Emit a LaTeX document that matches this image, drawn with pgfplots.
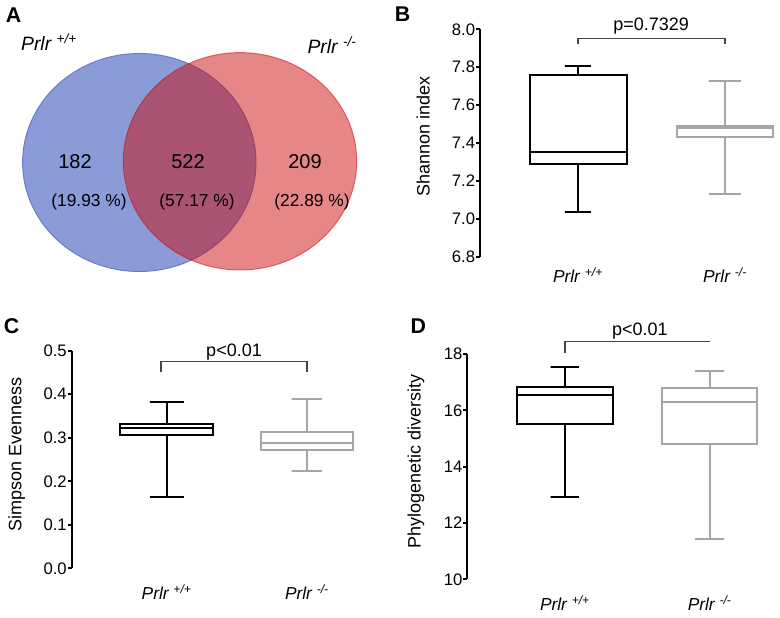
\documentclass[border=0pt]{standalone}
\usepackage{fontspec}
\setmainfont{Liberation Sans}
\usepackage{pgfplots}
\pgfplotsset{compat=1.18}
\definecolor{vblue}{RGB}{138,155,215}
\definecolor{vbluedge}{RGB}{105,122,205}
\definecolor{vred}{RGB}{204,9,9}
\definecolor{bgrey}{RGB}{166,166,166}
\definecolor{brk}{RGB}{70,70,70}
% box: colour, left, right, q1, median, q3
\newcommand{\bbox}[6]{%
  \addplot[#1, line width=1.5pt, line join=miter, no marks] coordinates {(#2,#4) (#3,#4) (#3,#6) (#2,#6)} -- cycle;
  \addplot[#1, line width=1.5pt, no marks] coordinates {(#2,#5) (#3,#5)};}
% whisker: colour, centre, cap left, cap right, box end, whisker end
\newcommand{\wsk}[6]{%
  \addplot[#1, line width=1.5pt, no marks] coordinates {(#2,#5) (#2,#6) (#3,#6) (#4,#6)};}
\pgfplotsset{
 panel/.style={
   scale only axis,
   axis y line*=left, axis x line*=bottom,
   x axis line style={draw=none},
   xtick={1,2},
   xticklabels={\textit{Prlr \textsuperscript{+/+}}, \textit{Prlr \textsuperscript{-/-}}},
   xtick style={draw=none},
   tick align=outside, major tick length=3pt,
   y axis line style={line width=1.4pt, black},
   ytick style={line width=1.4pt, black},
   clip=false,
   /pgf/number format/assume math mode=true,
   yticklabel style={font=\fontsize{12.5}{14}\selectfont, inner xsep=0.5pt},
   xticklabel style={font=\fontsize{13}{15}\selectfont, anchor=base},
   ylabel style={font=\fontsize{13.5}{15}\selectfont, anchor=center},
 }
}
\begin{document}
\begin{tikzpicture}
% ---------------- Panel A: Venn ----------------
\begin{axis}[at={(0,0)}, anchor=north west, scale only axis,
  width=390*0.75pt, height=300*0.75pt,
  xmin=0, xmax=390, ymin=0, ymax=300, y dir=reverse, hide axis, clip=false]
\fill[vblue] (axis cs:139.3,162.5) ellipse [x radius=116.7, y radius=109];
\draw[vbluedge, line width=0.7pt] (axis cs:139.3,162.5) ellipse [x radius=116.7, y radius=109];
\fill[vred, opacity=0.49] (axis cs:240,161.3) ellipse [x radius=116.7, y radius=108.7];
\draw[vred, opacity=0.55, line width=0.7pt] (axis cs:240,161.3) ellipse [x radius=116.7, y radius=108.7];
\node[font=\fontsize{15}{17}\selectfont] at (axis cs:75,161.7) {182};
\node[font=\fontsize{15}{17}\selectfont] at (axis cs:188,161.7) {522};
\node[font=\fontsize{15}{17}\selectfont] at (axis cs:305,161.7) {209};
\node[font=\fontsize{13}{15}\selectfont] at (axis cs:89,201.7) {(19.93 \%)};
\node[font=\fontsize{13}{15}\selectfont] at (axis cs:197,201.7) {(57.17 \%)};
\node[font=\fontsize{13}{15}\selectfont] at (axis cs:312,201.7) {(22.89 \%)};
\node[font=\fontsize{14.5}{16}\selectfont] at (axis cs:49,42) {\textit{Prlr \textsuperscript{+/+}}};
\node[font=\fontsize{14.5}{16}\selectfont] at (axis cs:332,45) {\textit{Prlr \textsuperscript{-/-}}};
\end{axis}
% ---------------- Panel B: Shannon ----------------
\begin{axis}[panel, at={(480*0.75pt,-256.7*0.75pt)}, anchor=south west,
  width=296.5*0.75pt, height=227.4*0.75pt,
  xmin=0.3333, xmax=2.35, ymin=6.8, ymax=8.0,
  ytick={6.8,7.0,7.2,7.4,7.6,7.8,8.0},
  yticklabel style={/pgf/number format/.cd, fixed, fixed zerofill, precision=1},
  xticklabel style={yshift=-21.5*0.75pt},
  ylabel={Shannon index},
  ylabel style={at={(axis description cs:-0.192,0.528)}}]
\bbox{black}{0.67}{1.33}{7.289}{7.351}{7.760}
\wsk{black}{1}{0.91}{1.09}{7.760}{7.806}
\wsk{black}{1}{0.91}{1.09}{7.289}{7.037}
\bbox{bgrey}{1.675}{2.325}{7.430}{7.479}{7.490}
\wsk{bgrey}{2}{1.89}{2.11}{7.490}{7.729}
\wsk{bgrey}{2}{1.89}{2.11}{7.430}{7.131}
\addplot[brk, line width=0.9pt, no marks] coordinates {(1,7.92) (1,7.952) (2,7.952) (2,7.92)};
\node[anchor=base, font=\fontsize{13.5}{15}\selectfont] at (axis cs:1.497,7.996) {p=0.7329};
\end{axis}
% ---------------- Panel C: Simpson ----------------
\begin{axis}[panel, at={(71.7*0.75pt,-568.3*0.75pt)}, anchor=south west,
  width=291.4*0.75pt, height=217.6*0.75pt,
  xmin=0.323, xmax=2.4, ymin=0, ymax=0.5,
  ytick={0,0.1,0.2,0.3,0.4,0.5},
  yticklabel style={/pgf/number format/.cd, fixed, fixed zerofill, precision=1},
  xticklabel style={yshift=-26.7*0.75pt},
  ylabel={Simpson Evenness},
  ylabel style={at={(axis description cs:-0.189,0.521)}}]
\bbox{black}{0.67}{1.33}{0.306}{0.323}{0.331}
\wsk{black}{1}{0.88}{1.12}{0.331}{0.383}
\wsk{black}{1}{0.88}{1.12}{0.306}{0.165}
\bbox{bgrey}{1.67}{2.33}{0.273}{0.287}{0.314}
\wsk{bgrey}{2}{1.89}{2.11}{0.314}{0.390}
\wsk{bgrey}{2}{1.89}{2.11}{0.273}{0.224}
\addplot[brk, line width=0.9pt, no marks] coordinates {(0.96,0.450) (0.96,0.476) (2,0.476) (2,0.450)};
\node[anchor=base, font=\fontsize{13.5}{15}\selectfont] at (axis cs:1.48,0.486) {p<0.01};
\end{axis}
% ---------------- Panel D: Phylogenetic ----------------
\begin{axis}[panel, at={(467.3*0.75pt,-579.3*0.75pt)}, anchor=south west,
  width=300.3*0.75pt, height=225.3*0.75pt,
  xmin=0.325, xmax=2.4, ymin=10, ymax=18,
  ytick={10,12,14,16,18},
  xticklabel style={yshift=-27.4*0.75pt},
  ylabel={Phylogenetic diversity},
  ylabel style={at={(axis description cs:-0.171,0.522)}}]
\bbox{black}{0.67}{1.33}{15.53}{16.545}{16.84}
\wsk{black}{1}{0.9}{1.1}{16.84}{17.53}
\wsk{black}{1}{0.9}{1.1}{15.53}{12.91}
\bbox{bgrey}{1.67}{2.33}{14.80}{16.285}{16.80}
\wsk{bgrey}{2}{1.9}{2.1}{16.80}{17.38}
\wsk{bgrey}{2}{1.9}{2.1}{14.80}{11.42}
\addplot[brk, line width=0.9pt, no marks] coordinates {(1,18.02) (1,18.44) (2,18.44)};
\node[anchor=base, font=\fontsize{13.5}{15}\selectfont] at (axis cs:1.518,18.67) {p<0.01};
\end{axis}
% panel letters
\node[font=\fontsize{16}{18}\selectfont\bfseries] at (13.5*0.75pt,-15.5*0.75pt) {A};
\node[font=\fontsize{16}{18}\selectfont\bfseries] at (402.5*0.75pt,-14.5*0.75pt) {B};
\node[font=\fontsize{16}{18}\selectfont\bfseries] at (11.7*0.75pt,-325.8*0.75pt) {C};
\node[font=\fontsize{16}{18}\selectfont\bfseries] at (418.3*0.75pt,-325.8*0.75pt) {D};
\pgfresetboundingbox
\path[use as bounding box] (0,0) rectangle (780*0.75pt,-617*0.75pt);
\end{tikzpicture}
\end{document}
